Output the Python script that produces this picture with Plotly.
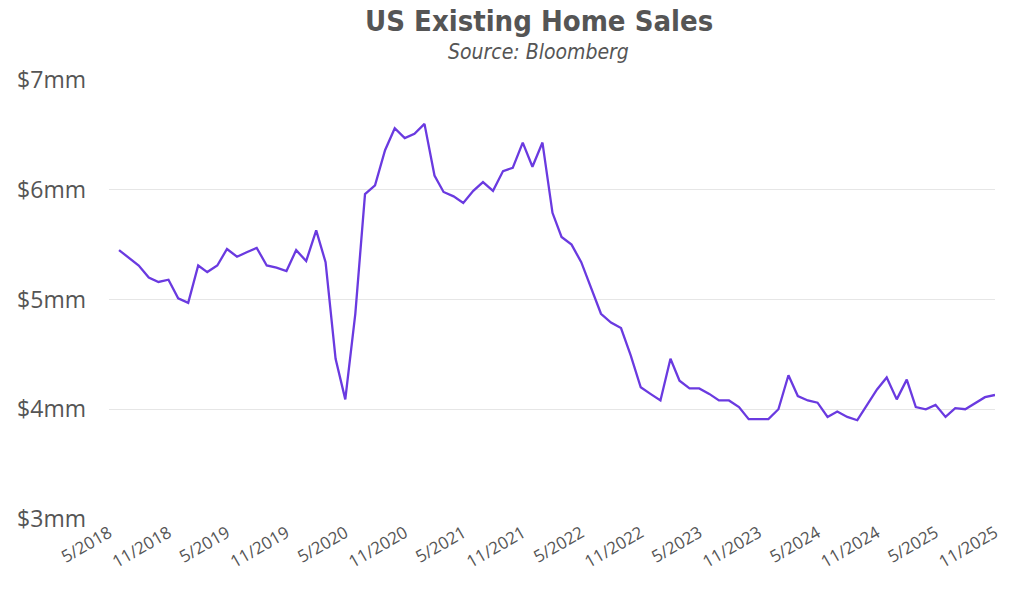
import pandas as pd
import plotly.graph_objects as go

# Monthly existing home sales (millions, SAAR), 6/2018 .. 11/2025
months = pd.date_range("2018-06-01", periods=90, freq="MS")
sales = [
    5.45, 5.38, 5.31, 5.20, 5.16, 5.18, 5.01, 4.97, 5.31, 5.25,
    5.31, 5.46, 5.39, 5.43, 5.47, 5.31, 5.29, 5.26, 5.45, 5.35,
    5.63, 5.34, 4.46, 4.09, 4.87, 5.96, 6.04, 6.36, 6.56, 6.47,
    6.51, 6.60, 6.13, 5.98, 5.94, 5.88, 5.99, 6.07, 5.99, 6.17,
    6.20, 6.43, 6.21, 6.43, 5.79, 5.57, 5.50, 5.34, 5.10, 4.87,
    4.79, 4.74, 4.49, 4.20, 4.14, 4.08, 4.46, 4.26, 4.19, 4.19,
    4.14, 4.08, 4.08, 4.02, 3.91, 3.91, 3.91, 4.00, 4.31, 4.12,
    4.08, 4.06, 3.93, 3.98, 3.93, 3.90, 4.04, 4.18, 4.29, 4.09,
    4.27, 4.02, 4.00, 4.04, 3.93, 4.01, 4.00, 4.06, 4.11, 4.13,
]

tick_dates = pd.date_range("2018-05-01", "2025-11-01", freq="6MS")
tick_text = ["5/2018", "11/2018", "5/2019", "11/2019", "5/2020", "11/2020",
             "5/2021", "11/2021", "5/2022", "11/2022", "5/2023", "11/2023",
             "5/2024", "11/2024", "5/2025", "11/2025"]
y_ticks = [3, 4, 5, 6, 7]
y_text = ["$3mm", "$4mm", "$5mm", "$6mm", "$7mm"]

fig = go.Figure()
fig.add_trace(go.Scatter(
    x=months, y=sales, mode="lines",
    line=dict(color="#6a3ae0", width=2.3),
    hoverinfo="skip",
))

fig.update_layout(
    width=1024, height=589,
    margin=dict(l=109, r=29, t=80, b=70, autoexpand=False),
    paper_bgcolor="white", plot_bgcolor="white",
    showlegend=False,
    font=dict(family="Open Sans, sans-serif", color="#555555"),
    annotations=[
        dict(text="<b>US Existing Home Sales</b>", xref="paper", yref="paper",
             x=0.485, y=1, xanchor="center", yanchor="bottom", yshift=40,
             showarrow=False,
             font=dict(family="DejaVu Sans Condensed, Roboto, sans-serif", size=29, color="#555555")),
        dict(text="<i>Source: Bloomberg</i>", xref="paper", yref="paper",
             x=0.485, y=1, xanchor="center", yanchor="bottom", yshift=14,
             showarrow=False,
             font=dict(family="DejaVu Sans Condensed, Roboto, sans-serif", size=21, color="#555555")),
    ],
)

fig.update_xaxes(
    range=[tick_dates[0], tick_dates[-1]],
    tickvals=tick_dates, ticktext=tick_text, tickangle=-30,
    showgrid=False, zeroline=False, showline=False, ticks="",
    automargin=False,
    tickfont=dict(size=17, color="#555555"),
)
fig.update_yaxes(
    range=[3, 7], tickvals=y_ticks, ticktext=y_text,
    showgrid=True, gridcolor="#e6e6e6", gridwidth=1,
    zeroline=False, showline=False, ticks="",
    automargin=False,
    ticklabelstandoff=22,
    tickfont=dict(size=23, color="#555555"),
)

# remove the page's default 8px body margin so the figure sits at the window corner
fig.write_html("out.html", config={"displayModeBar": False},
               post_script="document.body.style.margin='0';")
